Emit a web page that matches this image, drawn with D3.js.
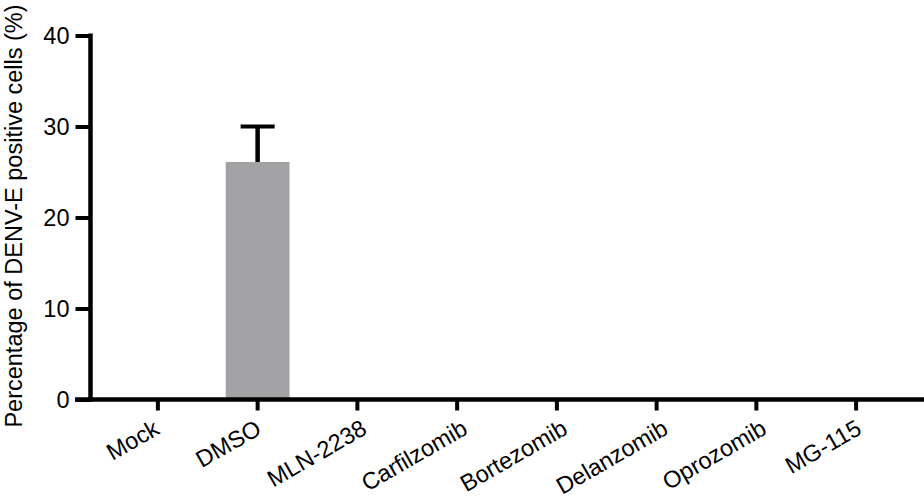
<!DOCTYPE html>
<html>
<head>
<meta charset="utf-8">
<script src="https://cdn.jsdelivr.net/npm/d3@7"></script>
<style>
  body { margin: 0; background: #fff; }
  text { font-family: "Liberation Sans", Arial, sans-serif; fill: #000; }
</style>
</head>
<body>
<div id="chart"></div>
<script>
// chart values
const treatments = ["Mock", "DMSO", "MLN-2238", "Carfilzomib", "Bortezomib", "Delanzomib", "Oprozomib", "MG-115"];
const meanPct = [0, 26.1, 0, 0, 0, 0, 0, 0];
const sdPct = [0, 3.9, 0, 0, 0, 0, 0, 0];
const yTicks = [0, 10, 20, 30, 40];

const width = 924, height = 496;

const svg = d3.select("#chart")
  .append("svg")
    .attr("width", width)
    .attr("height", height);

const x = d3.scaleBand()
  .domain(treatments)
  .range([108, 906])
  .paddingInner(0.36)
  .paddingOuter(0.18);

const y = d3.scaleLinear()
  .domain([0, 40])
  .range([399.5, 35.5]);

const axisX0 = 90.5;

// bars
svg.selectAll("rect.bar")
  .data(treatments)
  .enter().append("rect")
    .attr("class", "bar")
    .attr("x", d => x(d))
    .attr("width", x.bandwidth())
    .attr("y", (d, i) => y(meanPct[i]))
    .attr("height", (d, i) => y(0) - y(meanPct[i]))
    .attr("fill", "#a2a2a5");

// error bars (upper only)
const errs = treatments.map((d, i) => ({ t: d, m: meanPct[i], s: sdPct[i] })).filter(e => e.s > 0);
errs.forEach(e => {
  const cx = x(e.t) + x.bandwidth() / 2;
  svg.append("line")
    .attr("x1", cx).attr("x2", cx)
    .attr("y1", y(e.m)).attr("y2", y(e.m + e.s))
    .attr("stroke", "#000").attr("stroke-width", 4.5);
  svg.append("line")
    .attr("x1", cx - 17).attr("x2", cx + 17)
    .attr("y1", y(e.m + e.s)).attr("y2", y(e.m + e.s))
    .attr("stroke", "#000").attr("stroke-width", 4);
});

// y axis
const yAxis = svg.append("g")
  .attr("transform", `translate(${axisX0},0)`)
  .call(d3.axisLeft(y).tickValues(yTicks).tickSize(15).tickPadding(6));
yAxis.select(".domain").remove();
yAxis.selectAll(".tick line").attr("stroke", "#000").attr("stroke-width", 4);
yAxis.selectAll(".tick text").style("font-size", "23.5px").attr("dy", "0.35em");
svg.append("line")
  .attr("x1", axisX0).attr("x2", axisX0)
  .attr("y1", y(40) - 2).attr("y2", y(0) + 2)
  .attr("stroke", "#000").attr("stroke-width", 4.5);

// x axis
const xAxis = svg.append("g")
  .attr("transform", `translate(0,${y(0)})`)
  .call(d3.axisBottom(x).tickSize(11).tickFormat(""));
xAxis.select(".domain").remove();
xAxis.selectAll(".tick line").attr("stroke", "#000").attr("stroke-width", 4);
svg.append("line")
  .attr("x1", 75).attr("x2", width)
  .attr("y1", y(0)).attr("y2", y(0))
  .attr("stroke", "#000").attr("stroke-width", 4.5);

// rotated category labels (longer names sit a little further right, like the original)
svg.selectAll("text.xlab")
  .data(treatments)
  .enter().append("text")
    .attr("class", "xlab")
    .attr("text-anchor", "end")
    .style("font-size", "23.5px")
    .text(d => d)
    .attr("transform", function(d) {
      const len = this.getComputedTextLength();
      const cx = x(d) + x.bandwidth() / 2 - 5 + 0.145 * len;
      return `translate(${cx},433) rotate(-30)`;
    });

// y axis title
svg.append("text")
  .attr("text-anchor", "middle")
  .attr("transform", "translate(22,216) rotate(-90)")
  .style("font-size", "23.5px")
  .text("Percentage of DENV-E positive cells (%)");
</script>
</body>
</html>
